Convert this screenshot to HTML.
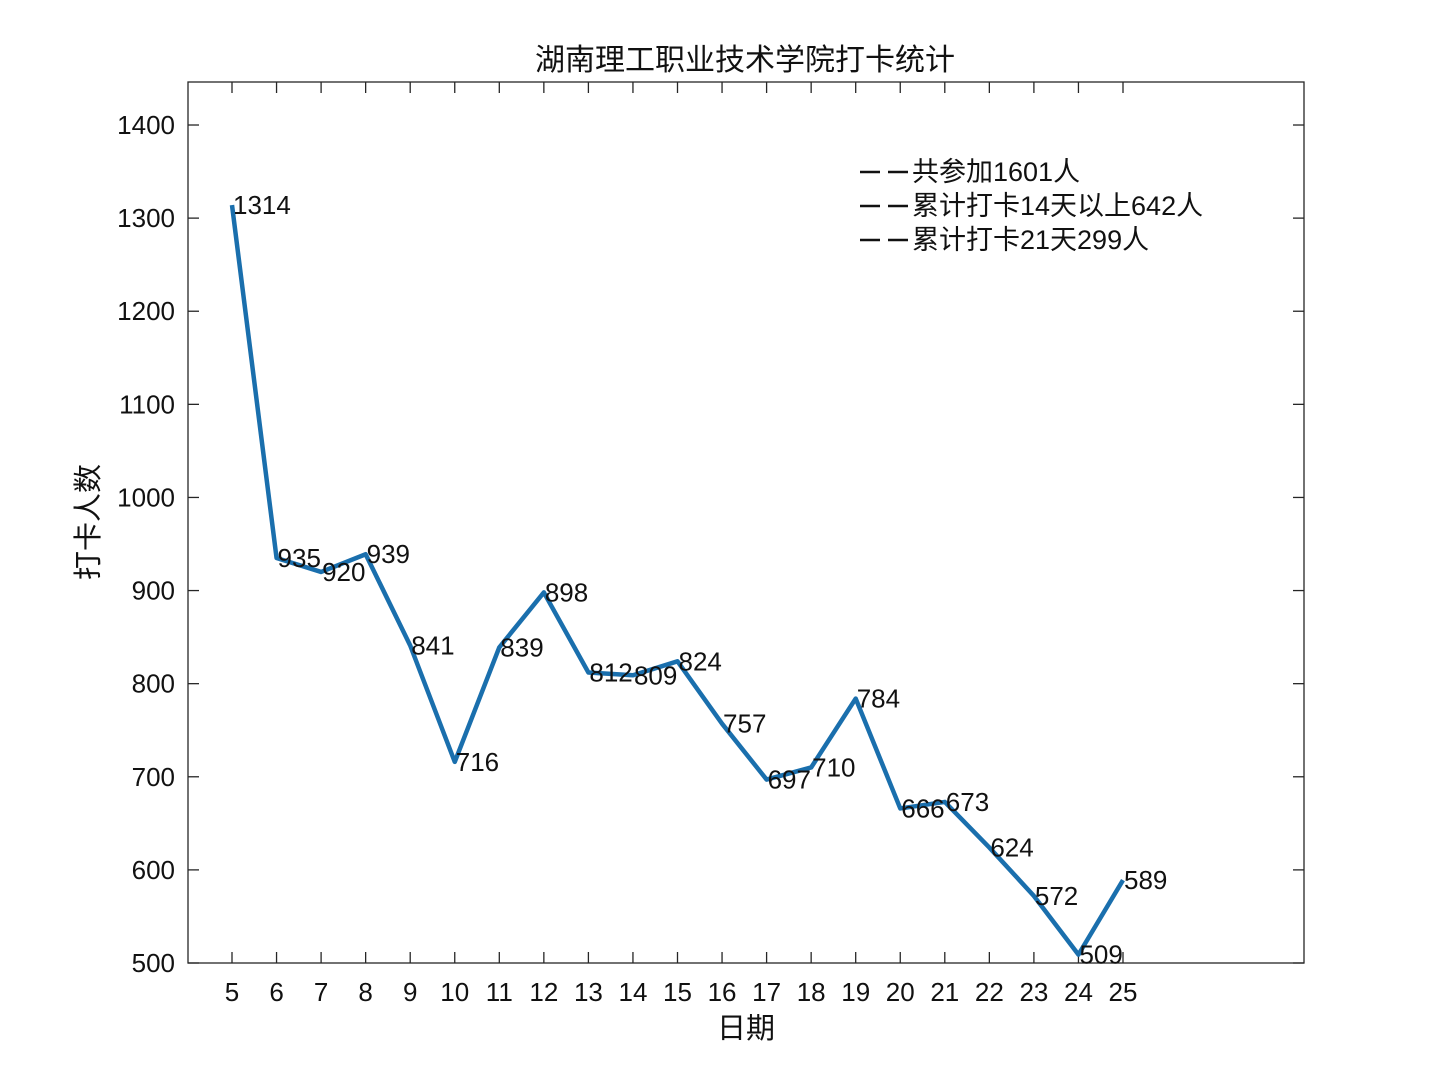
<!DOCTYPE html>
<html><head><meta charset="utf-8"><style>
html,body{margin:0;padding:0;background:#fff;}
text{font-family:"Liberation Sans","Noto Sans CJK SC",sans-serif;fill:#111;}
</style></head><body>
<svg width="1440" height="1080" viewBox="0 0 1440 1080" xmlns="http://www.w3.org/2000/svg">
<rect width="1440" height="1080" fill="#fff"/>
<rect x="188" y="82" width="1116" height="881" fill="none" stroke="#262626" stroke-width="1.3"/>
<g id="ticks" stroke="#262626" stroke-width="1.3"></g>
<g id="g"></g>
<script>
var ns="http://www.w3.org/2000/svg";
function X(d){return 232+(d-5)*44.55;}
function Y(v){return 963-(v-500)*0.9311;}
var t=document.getElementById('ticks'),g=document.getElementById('g');
function el(n,a,p,txt){var e=document.createElementNS(ns,n);for(var k in a)e.setAttribute(k,a[k]);if(txt!==undefined)e.textContent=txt;(p||g).appendChild(e);return e;}
for(var d=5;d<=25;d++){var x=X(d);
el('line',{x1:x,y1:963,x2:x,y2:952},t);el('line',{x1:x,y1:82,x2:x,y2:93},t);
el('text',{x:x,y:1001,'text-anchor':'middle','font-size':26},g,String(d));}
for(var v=500;v<=1400;v+=100){var y=Y(v);
el('line',{x1:188,y1:y,x2:199,y2:y},t);el('line',{x1:1304,y1:y,x2:1293,y2:y},t);
el('text',{x:175,y:y+9,'text-anchor':'end','font-size':26},g,String(v));}
var data=[1314,935,920,939,841,716,839,898,812,809,824,757,697,710,784,666,673,624,572,509,589];
var pts=data.map(function(v,i){return X(i+5)+','+Y(v);}).join(' ');
el('polyline',{points:pts,fill:'none',stroke:'#1a6fad','stroke-width':4.5,'stroke-linejoin':'round'});
data.forEach(function(v,i){el('text',{x:X(i+5)+1,y:Y(v)+9,'font-size':26},g,String(v));});
</script>
<text x="745" y="70" text-anchor="middle" font-size="30">湖南理工职业技术学院打卡统计</text>
<text x="746" y="1038" text-anchor="middle" font-size="29">日期</text>
<text transform="translate(98,522) rotate(-90)" text-anchor="middle" font-size="29">打卡人数</text>
<g stroke="#111" stroke-width="2.5">
<line x1="860" y1="172" x2="880" y2="172"/><line x1="888" y1="172" x2="908" y2="172"/>
<line x1="860" y1="206" x2="880" y2="206"/><line x1="888" y1="206" x2="908" y2="206"/>
<line x1="860" y1="240" x2="880" y2="240"/><line x1="888" y1="240" x2="908" y2="240"/>
</g>
<text x="912" y="181" font-size="27">共参加1601人</text>
<text x="912" y="215" font-size="27">累计打卡14天以上642人</text>
<text x="912" y="249" font-size="27">累计打卡21天299人</text>
</svg>
</body></html>
